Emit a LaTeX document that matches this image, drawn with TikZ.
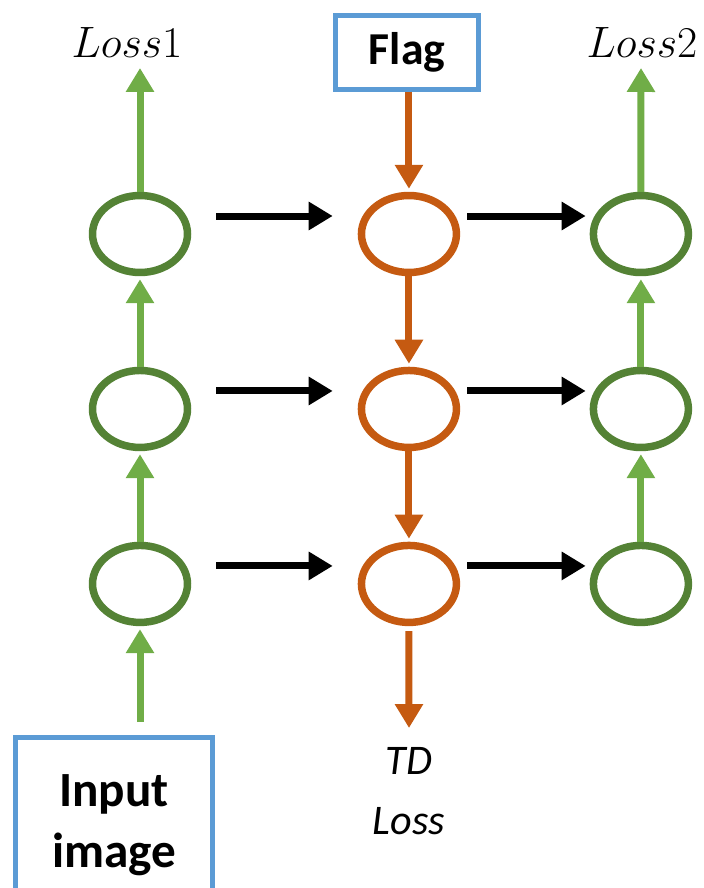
\RequirePackage{fix-cm}
\documentclass[tikz,border=0pt]{standalone}
\usepackage{fontspec}
\setmainfont{Carlito}
\usetikzlibrary{arrows.meta, positioning, shapes}

\definecolor{leafgreen}{RGB}{112,173,71}
\definecolor{darkgreen}{RGB}{84,130,53}
\definecolor{rust}{RGB}{197,90,17}
\definecolor{skyblue}{RGB}{91,155,213}

\tikzset{
    greennode/.style={ellipse, draw=darkgreen, line width=0.15cm, minimum width=1.9cm, minimum height=1.54cm},
    orangenode/.style={ellipse, draw=rust, line width=0.15cm, minimum width=1.9cm, minimum height=1.54cm},
    bluenode/.style={rectangle, draw=skyblue, line width=0.1cm, align=center},
    myarrow/.style={-{Triangle[length=0.48cm, width=0.54cm]}, line width=0.14cm},
    uparrow/.style={myarrow, shorten >=0.06cm},
    mylabel/.style={inner sep=0pt, align=center}
}

\begin{document}
\begin{tikzpicture}[x=0.02cm, y=-0.02cm, node distance=3.5cm, on grid]
        \useasboundingbox (0,0) rectangle (703,888);
        \clip (0,0) rectangle (703,888);

        % ------------------
        % nodes
        % ------------------

        \node[greennode] (left1) at (140,234) {};
        \node[greennode, below=of left1] (left2) {};
        \node[greennode, below=of left2] (left3) {};

        \node[orangenode, right=5.38cm of left1] (mid1) {};
        \node[orangenode, below=of mid1] (mid2) {};
        \node[orangenode, below=of mid2] (mid3) {};

        \node[greennode, right=4.64cm of mid1] (right1) {};
        \node[greennode, below=of right1] (right2) {};
        \node[greennode, below=of right2] (right3) {};

        \node[bluenode, minimum width=2.86cm, minimum height=1.48cm, font=\fontsize{26}{30}\selectfont\bfseries] (flag) at (407,52.5) {Flag};
        \node[bluenode, minimum width=3.94cm, minimum height=3.5cm, font=\fontsize{28}{35}\selectfont\bfseries] (input) at (114,825) {Input\\image};

        \node[mylabel, anchor=base, font=\fontsize{25}{30}\selectfont] (loss1) at (127,58) {$Loss1$};
        \node[mylabel, anchor=base, font=\fontsize{25}{30}\selectfont] (loss2) at (642,58) {$Loss2$};
        \node[mylabel, anchor=north, font=\fontsize{24}{34}\selectfont\itshape] (tdloss) at (409,747) {TD\\Loss};

        \coordinate (top1) at (140,68);
        \coordinate (top2) at (641,68);
        \coordinate (tdtip) at (409,728);

        % ------------------
        % arrows
        % ------------------

        \draw[uparrow, leafgreen] ([yshift=0.26cm]left3 |- input.north) to (left3.south);
        \draw[uparrow, leafgreen] (left3.north) to (left2.south);
        \draw[uparrow, leafgreen] (left2.north) to (left1.south);
        \draw[myarrow, leafgreen] (left1.north) to (top1);

        \draw[uparrow, leafgreen] (right3.north) to (right2.south);
        \draw[uparrow, leafgreen] (right2.north) to (right1.south);
        \draw[myarrow, leafgreen] (right1.north) to (top2);

        \draw[uparrow, rust] (mid1 |- flag.south) to (mid1.north);
        \draw[uparrow, rust] (mid1.south) to (mid2.north);
        \draw[uparrow, rust] (mid2.south) to (mid3.north);
        \draw[myarrow, rust] ([yshift=-0.1cm]mid3.south) to (tdtip);

        \draw[myarrow] ([shift={(0.5cm,0.36cm)}]left1.east) to ([shift={(-0.5cm,0.36cm)}]mid1.west);
        \draw[myarrow] ([shift={(0.5cm,0.36cm)}]left2.east) to ([shift={(-0.5cm,0.36cm)}]mid2.west);
        \draw[myarrow] ([shift={(0.5cm,0.36cm)}]left3.east) to ([shift={(-0.5cm,0.36cm)}]mid3.west);
        \draw[myarrow] ([shift={(0.14cm,0.36cm)}]mid1.east) to ([shift={(-0.08cm,0.36cm)}]right1.west);
        \draw[myarrow] ([shift={(0.14cm,0.36cm)}]mid2.east) to ([shift={(-0.08cm,0.36cm)}]right2.west);
        \draw[myarrow] ([shift={(0.14cm,0.36cm)}]mid3.east) to ([shift={(-0.08cm,0.36cm)}]right3.west);

    \end{tikzpicture}
\end{document}
